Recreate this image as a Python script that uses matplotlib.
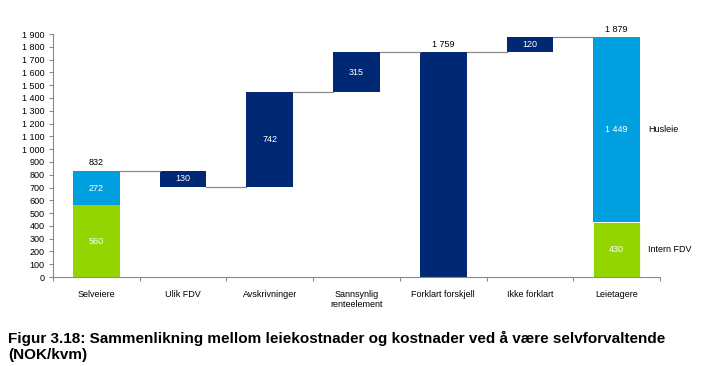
import matplotlib.pyplot as plt
import numpy as np

plt.rcParams['font.family'] = ['Liberation Sans', 'DejaVu Sans']

categories = ['Selveiere', 'Ulik FDV', 'Avskrivninger', 'Sannsynlig\nrenteelement',
              'Forklart forskjell', 'Ikke forklart', 'Leietagere']
selveiere_fdv = 560
selveiere_husleie = 272
steps = [-130, 742, 315]          # Ulik FDV, Avskrivninger, Sannsynlig renteelement
forklart_forskjell = 1759
ikke_forklart = 120
leietagere_fdv = 430
leietagere_husleie = 1449
yticks = list(range(0, 2000, 100))

NAVY = '#012872'
BLUE = '#00a0e0'
GREEN = '#93d500'
GREY = '#8a8a8a'
W = 0.54


def fmt(v):
    return f'{v:,}'.replace(',', ' ')


fig = plt.figure(figsize=(7.06, 3.66), dpi=100)
ax = fig.add_axes([0.075, 0.243, 0.860, 0.664])
x = np.arange(len(categories)) + 0.5

# first stacked column
ax.bar(x[0], selveiere_fdv, W, color=GREEN)
ax.bar(x[0], selveiere_husleie, W, bottom=selveiere_fdv, color=BLUE)
ax.text(x[0], selveiere_fdv / 2, fmt(selveiere_fdv), color='white', ha='center', va='center', fontsize=6.5)
ax.text(x[0], selveiere_fdv + selveiere_husleie / 2, fmt(selveiere_husleie), color='white',
        ha='center', va='center', fontsize=6.5)
level = selveiere_fdv + selveiere_husleie
ax.text(x[0], level + 25, fmt(level), ha='center', va='bottom', fontsize=6.5)
levels = [level]

# floating steps
for i, d in enumerate(steps):
    xi = x[i + 1]
    bottom = min(level, level + d)
    ax.bar(xi, abs(d), W, bottom=bottom, color=NAVY)
    ax.text(xi, bottom + abs(d) / 2, fmt(abs(d)), color='white', ha='center', va='center', fontsize=6.5)
    level += d
    levels.append(level)

# explained difference
ax.bar(x[4], forklart_forskjell, W, color=NAVY)
ax.text(x[4], forklart_forskjell + 25, fmt(forklart_forskjell), ha='center', va='bottom', fontsize=6.5)
levels.append(forklart_forskjell)

# not explained
ax.bar(x[5], ikke_forklart, W, bottom=forklart_forskjell, color=NAVY)
ax.text(x[5], forklart_forskjell + ikke_forklart / 2, fmt(ikke_forklart), color='white',
        ha='center', va='center', fontsize=6.5)
levels.append(forklart_forskjell + ikke_forklart)

# tenants
ax.bar(x[6], leietagere_fdv, W, color=GREEN, edgecolor='white', linewidth=0.6)
ax.bar(x[6], leietagere_husleie, W, bottom=leietagere_fdv, color=BLUE)
ax.text(x[6], leietagere_fdv / 2, fmt(leietagere_fdv), color='white', ha='center', va='center', fontsize=6.5)
ax.text(x[6], leietagere_fdv + leietagere_husleie / 2, fmt(leietagere_husleie), color='white',
        ha='center', va='center', fontsize=6.5)
total = leietagere_fdv + leietagere_husleie
ax.text(x[6], total + 25, fmt(total), ha='center', va='bottom', fontsize=6.5)
ax.text(x[6] + 0.36, leietagere_fdv + leietagere_husleie / 2, 'Husleie', ha='left', va='center', fontsize=6.5)
ax.text(x[6] + 0.36, leietagere_fdv / 2, 'Intern FDV', ha='left', va='center', fontsize=6.5)

# connector lines
for i, lv in enumerate(levels):
    ax.plot([x[i] + W / 2, x[i + 1] - W / 2], [lv, lv], color=GREY, lw=0.9)

ax.set_xlim(0, len(categories))
ax.set_ylim(0, 1900)
ax.set_yticks(yticks)
ax.set_yticklabels([fmt(v) for v in yticks], fontsize=6.5)
ax.set_xticks(np.arange(len(categories) + 1))
ax.set_xticklabels([])
ax.set_xticks(x, minor=True)
ax.set_xticklabels(categories, minor=True, fontsize=6.5)
ax.tick_params(axis='x', which='minor', length=0, pad=9)
ax.tick_params(axis='x', which='major', length=3, color=GREY)
ax.tick_params(axis='y', length=3, color=GREY, pad=3)
for s in ['top', 'right']:
    ax.spines[s].set_visible(False)
for s in ['left', 'bottom']:
    ax.spines[s].set_color(GREY)

fig.text(0.011, 0.054, 'Figur 3.18: Sammenlikning mellom leiekostnader og kostnader ved å være selvforvaltende\n(NOK/kvm)',
         fontsize=11, fontweight='bold', ha='left', va='center', linespacing=1.2)

fig.savefig('out.png', dpi=100)
